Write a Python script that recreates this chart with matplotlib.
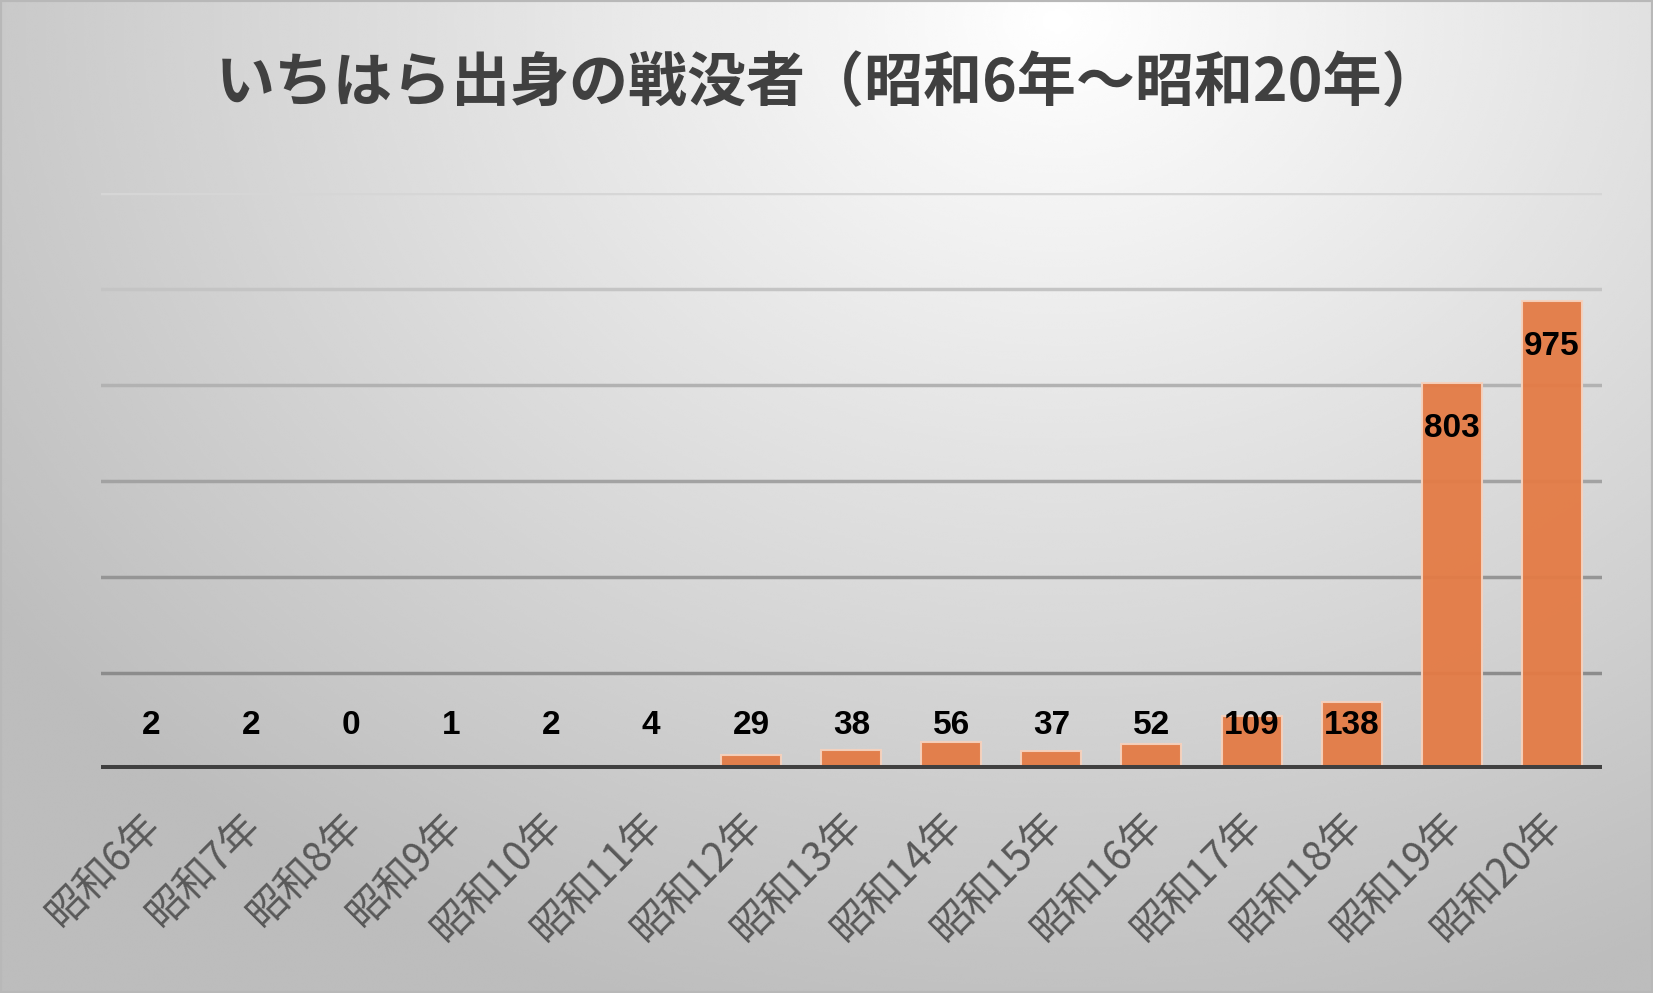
import numpy as np
import matplotlib
matplotlib.use("Agg")
import matplotlib.pyplot as plt
from matplotlib.transforms import ScaledTranslation

plt.rcParams['font.family'] = ['Noto Sans CJK JP', 'DejaVu Sans']

title = "いちはら出身の戦没者（昭和6年～昭和20年）"
years = ["昭和6年", "昭和7年", "昭和8年", "昭和9年", "昭和10年", "昭和11年",
         "昭和12年", "昭和13年", "昭和14年", "昭和15年", "昭和16年", "昭和17年",
         "昭和18年", "昭和19年", "昭和20年"]
deaths = [2, 2, 0, 1, 2, 4, 29, 38, 56, 37, 52, 109, 138, 803, 975]
grid_values = [200, 400, 600, 800, 1000, 1200]

fig = plt.figure(figsize=(16.53, 9.93), dpi=100)

# radial grey background, brightest near the top centre
bg = fig.add_axes([0, 0, 1, 1], zorder=-10)
yy, xx = np.mgrid[0:1:400j, 0:1:660j]
dist = np.sqrt(((xx - 0.64) * 1.0) ** 2 + ((yy - 0.02) * 0.75) ** 2)
shade = np.clip(1.0 - 0.33 * dist, 0.74, 1.0)
bg.imshow(shade, cmap="gray", vmin=0, vmax=1, extent=[0, 1, 0, 1],
          origin="upper", aspect="auto", interpolation="bicubic")
bg.set_xlim(0, 1)
bg.set_ylim(0, 1)
bg.axis("off")
bg.add_patch(plt.Rectangle((0, 0), 1, 1, transform=bg.transAxes, fill=False,
                           edgecolor="#b8b8b8", linewidth=3))

ax = fig.add_axes([0.061, 0.226, 0.908, 0.58])
ax.patch.set_alpha(0)
x = np.arange(len(years))
ax.bar(x, deaths, width=0.6, color="#E47B45", edgecolor="#F6D2BE",
       linewidth=1.5, alpha=0.95, zorder=3)

# gridlines get darker toward the bottom
grid_colors = ["#8c8c8c", "#959595", "#a2a2a2", "#b2b2b2", "#c4c4c4", "#d6d6d6"]
for g, c in zip(grid_values, grid_colors):
    ax.axhline(g, color=c, linewidth=2.5, zorder=1)
ax.axhline(0, color="#404040", linewidth=6.5, zorder=4)

for xi, v in zip(x, deaths):
    ax.text(xi, max(v - 95, 90), str(v), ha="center", va="center",
            fontsize=24, fontweight="bold", color="black",
            family="Liberation Sans", zorder=5)

ax.set_xlim(-0.5, len(years) - 0.5)
ax.set_ylim(0, 1200)
ax.set_yticks([])
ax.set_xticks(x)
ax.set_xticklabels(years, rotation=45, ha="right", va="top",
                   rotation_mode="anchor", fontsize=29, color="#595959")
ax.tick_params(axis="x", length=0, pad=26)
shift = ScaledTranslation(-0.10, 0, fig.dpi_scale_trans)
for lbl in ax.get_xticklabels():
    lbl.set_transform(lbl.get_transform() + shift)
for s in ax.spines.values():
    s.set_visible(False)

fig.text(0.5015, 0.915, title, ha="center", va="center", fontsize=42.5,
         fontweight="bold", color="#404040")

fig.savefig("out.png", dpi=100)
